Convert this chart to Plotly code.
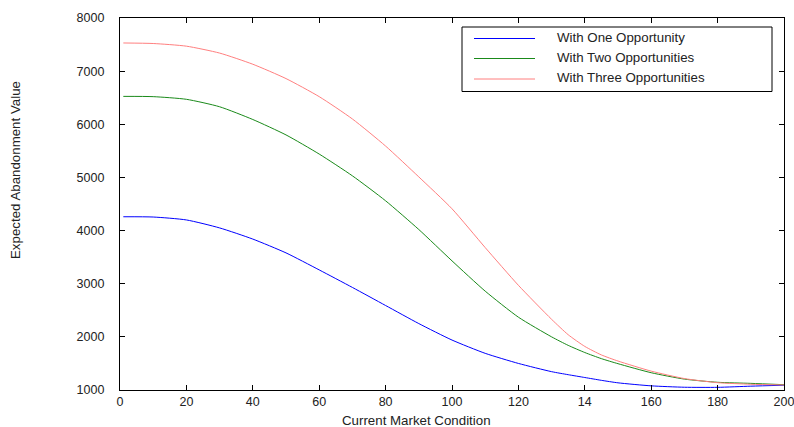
import plotly.graph_objects as go

x_vals = [1, 10, 20, 30, 40, 50, 60, 70, 80, 90, 100, 110, 120, 130, 135, 140, 145, 150, 160, 170, 180, 190, 200]
one_opp = [4260, 4255, 4200, 4050, 3840, 3580, 3260, 2930, 2590, 2250, 1940, 1690, 1500, 1345, 1288, 1235, 1182, 1135, 1078, 1052, 1050, 1072, 1090]
two_opp = [6525, 6520, 6470, 6330, 6090, 5800, 5440, 5030, 4560, 4020, 3430, 2860, 2370, 2000, 1840, 1705, 1590, 1495, 1325, 1205, 1145, 1125, 1100]
three_opp = [7530, 7520, 7470, 7340, 7130, 6860, 6520, 6100, 5590, 5010, 4410, 3680, 2970, 2330, 2040, 1820, 1660, 1545, 1355, 1215, 1138, 1108, 1095]

names = ["With One Opportunity", "With Two Opportunities", "With Three Opportunities"]
colors = ["#0000ff", "#1a8a1a", "#ff7f7f"]
series = [one_opp, two_opp, three_opp]

x_tickvals = [0, 20, 40, 60, 80, 100, 120, 140, 160, 180, 200]
x_ticktext = ["0", "20", "40", "60", "80", "100", "120", "14", "160", "180", "200"]
y_tickvals = [1000, 2000, 3000, 4000, 5000, 6000, 7000, 8000]

L, R, T, B = 120, 10, 18, 37
W, H = 794, 427
PW, PH = W - L - R, H - T - B

fig = go.Figure()
for n, c, s in zip(names, colors, series):
    fig.add_trace(go.Scatter(x=x_vals, y=s, mode="lines", name=n,
                             line=dict(color=c, width=1, shape="spline", smoothing=0.6),
                             showlegend=False))

font = dict(family="Liberation Sans, Arial, sans-serif", size=13.3, color="#222")
tickfont = dict(family="Liberation Sans, Arial, sans-serif", size=12.5, color="#222")
fig.update_layout(
    width=W, height=H,
    margin=dict(l=L, r=R, t=T, b=B),
    paper_bgcolor="white", plot_bgcolor="white",
    font=font,
    xaxis=dict(range=[0, 200], tickvals=x_tickvals, ticktext=x_ticktext,
               ticks="inside", ticklen=5, tickcolor="black", showline=True,
               linecolor="black", linewidth=1.3, mirror="ticks", showgrid=False,
               zeroline=False, tickfont=tickfont, ticklabeloverflow="allow",
               automargin=False),
    yaxis=dict(range=[1000, 8000], tickvals=y_tickvals,
               ticks="inside", ticklen=5, tickcolor="black", showline=True,
               linecolor="black", linewidth=1.3, mirror="ticks", showgrid=False,
               zeroline=False, tickfont=tickfont, ticklabelstandoff=12,
               automargin=False),
)

def px2x(p):
    return (p - L) / PW
def py2y(p):
    return (H - B - p) / PH

# axis titles
fig.add_annotation(text="Current Market Condition", xref="paper", yref="paper",
                   x=px2x(416), y=py2y(420), showarrow=False,
                   font=font, xanchor="center", yanchor="middle")
fig.add_annotation(text="Expected Abandonment Value", xref="paper", yref="paper",
                   x=px2x(15), y=py2y(170), showarrow=False,
                   font=font, textangle=-90, xanchor="center", yanchor="middle")

# legend box (manual)
fig.add_shape(type="rect", xref="paper", yref="paper",
              x0=px2x(462), x1=px2x(772), y0=py2y(91.5), y1=py2y(27),
              line=dict(color="black", width=1), fillcolor="white", layer="above")
for n, c, yy in zip(names, colors, [38.5, 58.5, 79]):
    fig.add_shape(type="line", xref="paper", yref="paper",
                  x0=px2x(474), x1=px2x(535), y0=py2y(yy), y1=py2y(yy),
                  line=dict(color=c, width=1), layer="above")
    fig.add_annotation(text=n, xref="paper", yref="paper", x=px2x(555), y=py2y(yy - 1),
                       showarrow=False, xanchor="left", yanchor="middle", font=font)

fig.write_html("out.html", post_script="document.body.style.margin='0';",
               config={"displayModeBar": False})
